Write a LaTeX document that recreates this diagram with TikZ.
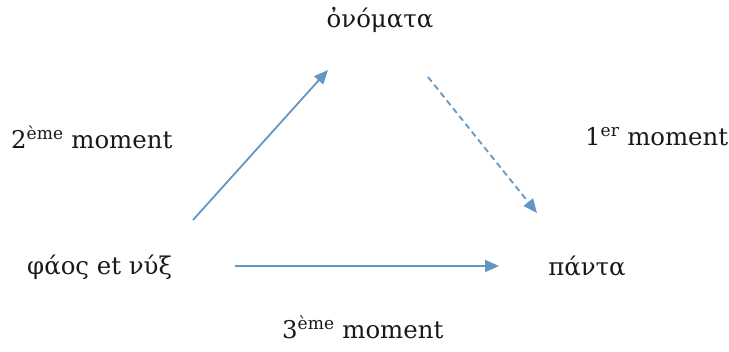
\documentclass[tikz,border=0pt]{standalone}
\usepackage{fontspec}
\setmainfont{DejaVu Serif}
\usepackage{tikz}
\usetikzlibrary{arrows.meta}
\definecolor{arblue}{RGB}{100,150,196}
\tikzset{
  word/.style={font=\fontsize{24.5}{29}\selectfont,inner sep=0pt,text=black!90},
  ar/.style={-{Triangle[length=14bp,width=12bp]},line width=1.8bp,draw=arblue},
  ardash/.style={ar,dash pattern=on 6bp off 4bp}
}
\begin{document}
\begin{tikzpicture}[x=1bp,y=-1bp]
\useasboundingbox (0,0) rectangle (729,351);
% the three words
\node[word,anchor=base] (onomata) at (380,27) {ὀνόματα};
\node[word,anchor=base west] (phaos) at (27,274) {φάος et νύξ};
\node[word,anchor=base] (panta) at (587,275) {πάντα};
% moments
\node[word,anchor=base west] (m2) at (11,148) {2\textsuperscript{ème} moment};
\node[word,anchor=base west] (m1) at (585,145) {1\textsuperscript{er} moment};
\node[word,anchor=base west] (m3) at (282,338) {3\textsuperscript{ème} moment};
% arrow ends
\coordinate (a2s) at (193,220);
\coordinate (a2e) at (328,70);
\coordinate (a1s) at (428,77);
\coordinate (a1e) at (537,213);
\coordinate (a3s) at (235,266);
\coordinate (a3e) at (499,266);
\draw[ar] (a2s) -- (a2e);
\draw[ardash] (a1s) -- (a1e);
\draw[ar] (a3s) -- (a3e);
\end{tikzpicture}
\end{document}
